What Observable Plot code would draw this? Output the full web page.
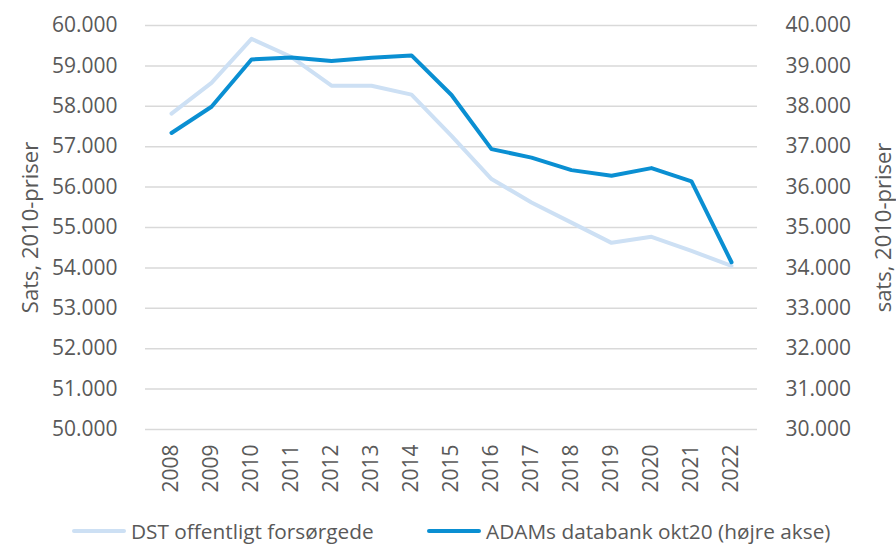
<!DOCTYPE html>
<html>
<head>
<meta charset="utf-8">
<script src="https://cdn.jsdelivr.net/npm/d3@7"></script>
<script src="https://cdn.jsdelivr.net/npm/@observablehq/plot@0.6"></script>
<style>
  html, body { margin: 0; padding: 0; background: #fff; }
  #wrap { position: relative; width: 896px; height: 545px; font-family: "Open Sans", sans-serif; color: #595959; }
  .leg { position: absolute; top: 517px; height: 28px; display: flex; align-items: center; font-size: 20.8px; white-space: nowrap; }
  .leg .sw { width: 54px; height: 4px; border-radius: 2px; margin-right: 5px; }
</style>
</head>
<body>
<div id="wrap"></div>
<script>
const years = [2008, 2009, 2010, 2011, 2012, 2013, 2014, 2015, 2016, 2017, 2018, 2019, 2020, 2021, 2022];
const dstValues = [57820, 58580, 59670, 59220, 58510, 58510, 58290, 57270, 56200, 55620, 55120, 54620, 54770, 54420, 54050];
const adamsValues = [37340, 37990, 39160, 39210, 39120, 39200, 39260, 38280, 36940, 36730, 36420, 36280, 36470, 36140, 34140];
const seriesNames = ["DST offentligt forsørgede", "ADAMs databank okt20 (højre akse)"];
const leftTicks = [50000, 51000, 52000, 53000, 54000, 55000, 56000, 57000, 58000, 59000, 60000];
const axisOffset = 20000; // right axis = left axis - 20000
const leftTitle = "Sats, 2010-priser";
const rightTitle = "sats, 2010-priser";

const colors = ["#cde0f4", "#0a8fd2"];
const fmt = v => d3.format(",")(v).replace(/,/g, ".");

const dst = years.map((y, i) => ({year: String(y), v: dstValues[i]}));
const adams = years.map((y, i) => ({year: String(y), v: adamsValues[i]}));

const chart = Plot.plot({
  width: 896,
  height: 505,
  marginLeft: 145,
  marginRight: 139,
  marginTop: 25,
  marginBottom: 76,
  style: {fontFamily: "Open Sans, sans-serif", fontSize: "21px", color: "#595959", background: "#fff"},
  x: {type: "point", domain: years.map(String), padding: 0.5},
  y: {domain: [50000, 60000]},
  marks: [
    Plot.gridY(leftTicks, {stroke: "#d9d9d9", strokeOpacity: 1, strokeWidth: 1.5}),
    Plot.axisY(leftTicks, {anchor: "left", tickSize: 0, tickPadding: 28, tickFormat: fmt, label: null}),
    Plot.axisY(leftTicks, {anchor: "right", tickSize: 0, tickPadding: 28, textAnchor: "start", tickFormat: d => fmt(d - axisOffset), label: null}),
    Plot.axisX({anchor: "bottom", tickSize: 0, tickPadding: 15, tickRotate: -90, label: null}),
    Plot.line(dst, {x: "year", y: "v", stroke: colors[0], strokeWidth: 4, strokeLinejoin: "round", strokeLinecap: "round"}),
    Plot.line(adams, {x: "year", y: d => d.v + axisOffset, stroke: colors[1], strokeWidth: 4, strokeLinejoin: "round", strokeLinecap: "round"}),
    Plot.text([leftTitle], {frameAnchor: "left", textAnchor: "middle", dx: -115, rotate: -90, fill: "#595959", fontSize: 22}),
    Plot.text([rightTitle], {frameAnchor: "right", textAnchor: "middle", dx: 126, rotate: -90, fill: "#595959", fontSize: 22})
  ]
});

const wrap = document.getElementById("wrap");
wrap.appendChild(chart);

const legPos = [72, 427];
seriesNames.forEach((name, i) => {
  const item = document.createElement("div");
  item.className = "leg";
  item.style.left = legPos[i] + "px";
  const sw = document.createElement("span");
  sw.className = "sw";
  sw.style.background = colors[i];
  const t = document.createElement("span");
  t.textContent = name;
  item.appendChild(sw);
  item.appendChild(t);
  wrap.appendChild(item);
});
</script>
</body>
</html>
